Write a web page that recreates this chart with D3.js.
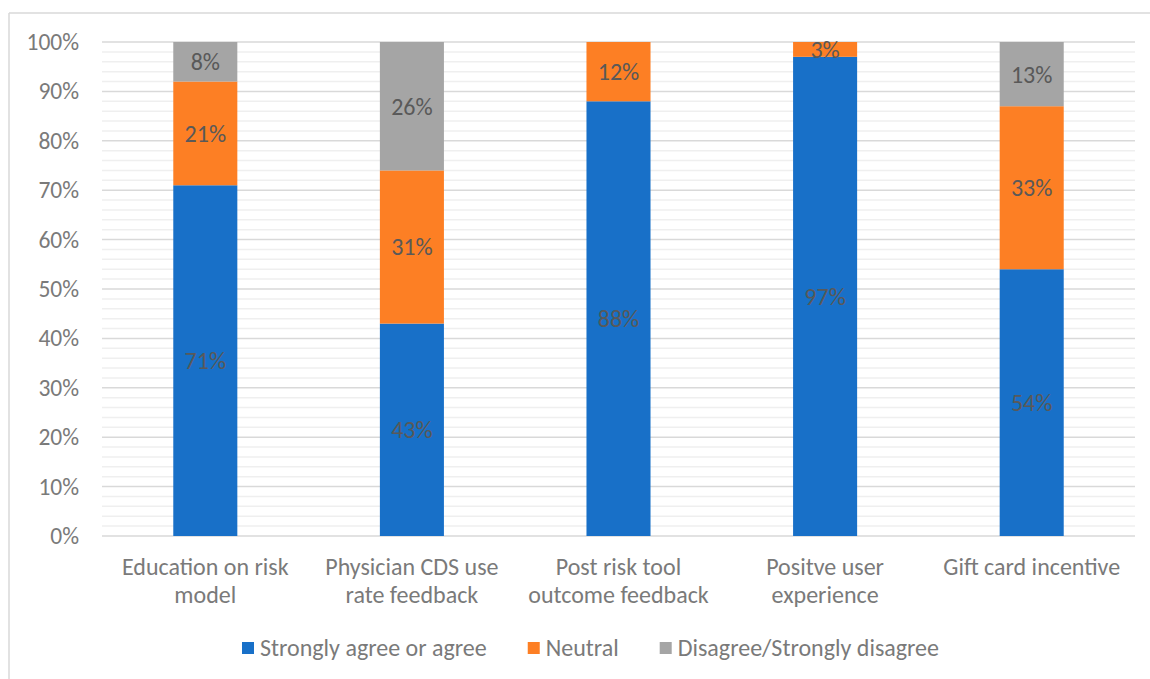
<!DOCTYPE html>
<html><head><meta charset="utf-8">
<script src="https://cdn.jsdelivr.net/npm/d3@7"></script>
<style>
html,body{margin:0;padding:0;background:#fff;}
svg{display:block;font-family:Carlito,Lato,sans-serif;}
</style></head>
<body>
<svg id="c" width="1150" height="679"></svg>
<script>
const categories = ["Education on risk model","Physician CDS use rate feedback","Post risk tool outcome feedback","Positve user experience","Gift card incentive"];
const seriesNames = ["Strongly agree or agree","Neutral","Disagree/Strongly disagree"];
const agree    = [71, 43, 88, 97, 54];
const neutral  = [21, 31, 12, 3, 33];
const disagree = [8, 26, 0, 0, 13];
const yTicks = [0,10,20,30,40,50,60,70,80,90,100];
const colors = ["#1870C8","#FD7F24","#A5A5A5"];

const FS = 24, FT = 23.5;
const svg = d3.select("#c");
const W = 1150, H = 679;
const plot = {left:102, right:1135, top:42, bottom:536};

// chart frame (left and top edges visible)
svg.append("line").attr("x1",9).attr("x2",W).attr("y1",13).attr("y2",13).attr("stroke","#d9d9d9").attr("stroke-width",1.5);
svg.append("line").attr("x1",9).attr("x2",9).attr("y1",13).attr("y2",H).attr("stroke","#d9d9d9").attr("stroke-width",1.5);

const x = d3.scaleBand().domain(categories).range([plot.left, plot.right]).paddingInner(0.69).paddingOuter(0.345);
const y = d3.scaleLinear().domain([0,100]).range([plot.bottom, plot.top]);

// minor gridlines
const minor = d3.range(0,101,2).filter(v=>v%10!==0);
svg.append("g").selectAll("line").data(minor).join("line")
  .attr("x1",plot.left).attr("x2",plot.right)
  .attr("y1",d=>y(d)).attr("y2",d=>y(d))
  .attr("stroke","#efefef").attr("stroke-width",1.5);
// major gridlines
svg.append("g").selectAll("line").data(yTicks).join("line")
  .attr("x1",plot.left).attr("x2",plot.right)
  .attr("y1",d=>y(d)).attr("y2",d=>y(d))
  .attr("stroke","#d9d9d9").attr("stroke-width",1.5);

// y axis labels
const yAxis = d3.axisLeft(y).tickValues(yTicks).tickFormat(d=>d+"%").tickSize(0).tickPadding(23);
const ga = svg.append("g").attr("transform",`translate(${plot.left},0)`).call(yAxis);
ga.select(".domain").remove();
ga.selectAll("text").attr("font-size",FT).attr("fill","#7a7a7a").attr("font-family","Carlito,Lato,sans-serif");

// stacked data
const rows = categories.map((c,i)=>({cat:c, s0:agree[i], s1:neutral[i], s2:disagree[i]}));
const stack = d3.stack().keys(["s0","s1","s2"])(rows);

const layers = svg.append("g").selectAll("g").data(stack).join("g").attr("fill",(d,i)=>colors[i]);
layers.selectAll("rect").data(d=>d.filter(p=>p[1]-p[0]>0)).join("rect")
  .attr("x",d=>x(d.data.cat)).attr("width",x.bandwidth())
  .attr("y",d=>y(d[1])).attr("height",d=>y(d[0])-y(d[1]));

// data labels
const lab = svg.append("g");
stack.forEach(layer=>{
  layer.forEach(p=>{
    const v = p[1]-p[0];
    if (v<=0) return;
    lab.append("text")
      .attr("x", x(p.data.cat)+x.bandwidth()/2)
      .attr("y", (y(p[0])+y(p[1]))/2)
      .attr("dy","0.35em")
      .attr("text-anchor","middle")
      .attr("font-size",FS).attr("fill","#595959")
      .text(v+"%");
  });
});

// category labels with wrapping
const catG = svg.append("g");
categories.forEach(c=>{
  const cx = x(c)+x.bandwidth()/2;
  const t = catG.append("text").attr("text-anchor","middle").attr("font-size",FS).attr("fill","#7a7a7a");
  const words = c.split(" ");
  let lines = [], cur = [];
  const probe = catG.append("text").attr("font-size",FS);
  words.forEach(w=>{
    const test = cur.concat([w]).join(" ");
    probe.text(test);
    if (probe.node().getComputedTextLength() > 192 && cur.length){ lines.push(cur.join(" ")); cur=[w]; }
    else cur.push(w);
  });
  lines.push(cur.join(" "));
  probe.remove();
  lines.forEach((ln,i)=>{
    t.append("tspan").attr("x",cx).attr("y",575+i*28).text(ln);
  });
});

// legend
const leg = svg.append("g");
let lx = 242;
seriesNames.forEach((n,i)=>{
  leg.append("rect").attr("x",lx).attr("y",642).attr("width",12).attr("height",12).attr("fill",colors[i]);
  const tt = leg.append("text").attr("x",lx+18).attr("y",648).attr("dy","0.35em")
    .attr("font-size",FS).attr("fill","#7a7a7a").text(n);
  lx += 18 + tt.node().getComputedTextLength() + 41;
});
</script>
</body></html>
